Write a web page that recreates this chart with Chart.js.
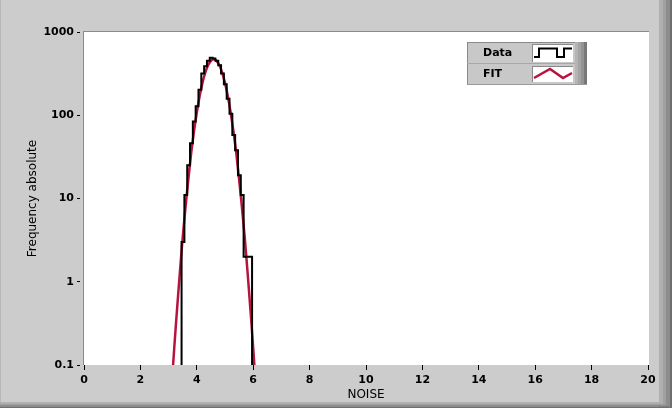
<!DOCTYPE html>
<html>
<head>
<meta charset="utf-8">
<script src="https://cdn.jsdelivr.net/npm/chart.js@4/dist/chart.umd.min.js"></script>
<style>
  html, body { margin: 0; padding: 0; background: #cccccc; }
  #wrap { width: 672px; height: 408px; }
</style>
</head>
<body>
<div id="wrap"><canvas id="chart" width="672" height="408"></canvas></div>
<script>
// histogram bins (left edges) and counts
const binEdges = [3.46, 3.56, 3.66, 3.76, 3.86, 3.96, 4.06, 4.16, 4.26, 4.36, 4.46, 4.56, 4.66,
  4.76, 4.86, 4.96, 5.06, 5.16, 5.26, 5.36, 5.46, 5.56, 5.66, 5.76, 5.86, 5.96];
const binCounts = [3, 11, 25, 46, 84, 128, 203, 318, 388, 452, 489, 482, 452,
  398, 318, 236, 158, 104, 58, 38, 19, 11, 2, 2, 2];
const emptyBin = 0.01; // zero counts sit below the log axis

// fitted curve
const fitX = [3.1, 3.2, 3.3, 3.4, 3.5, 3.6, 3.7, 3.8, 3.9, 4.0, 4.1, 4.2, 4.3, 4.4, 4.5, 4.6,
  4.7, 4.8, 4.9, 5.0, 5.1, 5.2, 5.3, 5.4, 5.5, 5.6, 5.7, 5.8, 5.9, 6.0, 6.1];
const fitY = [0.05, 0.16, 0.47, 1.3, 3.4, 7.9, 17, 35, 64, 108, 169, 245, 326, 399, 451, 470,
  451, 399, 326, 245, 169, 108, 64, 35, 17, 7.9, 3.4, 1.3, 0.47, 0.16, 0.05];

const yTicks = [0.1, 1, 10, 100, 1000];
const yTickLabels = ["0.1", "1", "10", "100", "1000"];
const legendNames = ["Data", "FIT"];

const histPoints = [{ x: binEdges[0], y: emptyBin }];
binCounts.forEach((c, i) => histPoints.push({ x: binEdges[i], y: c }));
histPoints.push({ x: binEdges[binEdges.length - 1], y: emptyBin });
const fitPoints = fitX.map((x, i) => ({ x: x, y: fitY[i] }));

const RED = "#b8123e";

const panel = {
  id: "panel",
  beforeDraw(chart) {
    const ctx = chart.ctx;
    const a = chart.chartArea;
    ctx.save();
    ctx.fillStyle = "#cccccc";
    ctx.fillRect(0, 0, 672, 408);
    // frame
    ctx.fillStyle = "#b8b8b8"; ctx.fillRect(0, 0, 1, 408);
    const shades = ["#b0b0b0", "#a0a0a0", "#8c8c8c", "#6e6e6e"];
    shades.forEach((c, i) => {
      ctx.fillStyle = c;
      ctx.fillRect(659 + i * 3.5, 0, 3.5, 408);
      ctx.fillRect(0, 402 + i * 1.5, 659 + i * 3.5, 1.5);
    });
    // plot area
    ctx.fillStyle = "#ffffff";
    ctx.fillRect(a.left - 1, a.top - 1, a.right - a.left + 2, a.bottom - a.top + 1);
    ctx.fillStyle = "#8a8a8a";
    ctx.fillRect(a.left - 1, a.top - 1, a.right - a.left + 2, 1);
    ctx.fillRect(a.left - 1, a.top - 1, 1, a.bottom - a.top + 1);
    ctx.restore();
  },
  afterDatasetsDraw(chart) {
    const ctx = chart.ctx;
    ctx.save();
    // legend box
    const L = 467, T = 42, W = 108, H = 43;
    ctx.fillStyle = "#c8c8c8";
    ctx.fillRect(L, T, W, H);
    ["#b4b4b4", "#a4a4a4", "#949494", "#787878"].forEach((c, i) => {
      ctx.fillStyle = c;
      ctx.fillRect(L + W + i * 3, T, 3, H);
    });
    ctx.fillStyle = "#8a8a8a";
    ctx.fillRect(L, T, W, 1);
    ctx.fillRect(L, T, 1, H);
    ctx.fillStyle = "#a8a8a8";
    ctx.fillRect(L, T + 21, W, 1);
    ctx.fillStyle = "#9a9a9a";
    ctx.fillRect(L, T + H - 1, W + 12, 1);
    // text
    ctx.fillStyle = "#000";
    ctx.font = "bold 11px 'DejaVu Sans'";
    ctx.textBaseline = "middle";
    ctx.fillText(legendNames[0], 483, T + 11);
    ctx.fillText(legendNames[1], 483, T + 32);
    // icon boxes
    ctx.fillStyle = "#ffffff";
    ctx.fillRect(532, T + 2, 41, 18);
    ctx.fillRect(532, T + 24, 41, 16);
    ctx.fillStyle = "#8a8a8a";
    ctx.fillRect(532, T + 2, 41, 1);
    ctx.fillRect(532, T + 2, 1, 18);
    ctx.fillRect(532, T + 24, 41, 1);
    ctx.fillRect(532, T + 24, 1, 16);
    // step icon
    ctx.strokeStyle = "#000";
    ctx.lineWidth = 2;
    ctx.beginPath();
    ctx.moveTo(534, 57); ctx.lineTo(539, 57); ctx.lineTo(539, 48.5); ctx.lineTo(557, 48.5);
    ctx.lineTo(557, 57); ctx.lineTo(564, 57); ctx.lineTo(564, 48.5); ctx.lineTo(572, 48.5);
    ctx.stroke();
    // fit icon
    ctx.strokeStyle = RED;
    ctx.lineWidth = 2.5;
    ctx.beginPath();
    ctx.moveTo(534, 78); ctx.lineTo(550, 69); ctx.lineTo(563, 78); ctx.lineTo(572, 73);
    ctx.stroke();
    ctx.restore();
  }
};

new Chart(document.getElementById("chart"), {
  type: "line",
  plugins: [panel],
  data: {
    datasets: [
      {
        label: legendNames[0],
        data: histPoints,
        stepped: "before",
        borderColor: "#000000",
        borderWidth: 2,
        pointRadius: 0,
        fill: false,
      },
      {
        label: legendNames[1],
        data: fitPoints,
        borderColor: RED,
        borderWidth: 2.5,
        pointRadius: 0,
        tension: 0.2,
        fill: false,
      },
    ],
  },
  options: {
    responsive: false,
    devicePixelRatio: 1,
    animation: false,
    layout: { padding: { top: 32, right: 24, left: 0, bottom: 0 } },
    plugins: {
      legend: { display: false },
      tooltip: { enabled: false },
    },
    scales: {
      x: {
        type: "linear",
        min: 0,
        max: 20,
        afterFit: (s) => { s.height = 43; },
        ticks: {
          stepSize: 2,
          color: "#000",
          padding: 4,
          maxRotation: 0,
          font: { family: "DejaVu Sans", size: 11, weight: "bold" },
        },
        grid: { drawOnChartArea: false, tickLength: 5, tickColor: "#000", color: "#000" },
        border: { display: false },
        title: {
          display: true,
          text: "NOISE",
          color: "#000",
          padding: { top: 0, bottom: 6 },
          font: { family: "DejaVu Sans", size: 12 },
        },
      },
      y: {
        type: "logarithmic",
        min: 0.1,
        max: 1000,
        afterFit: (s) => { s.width = 84; },
        afterBuildTicks: (s) => { s.ticks = yTicks.map((v) => ({ value: v })); },
        ticks: {
          color: "#000",
          padding: 3,
          callback: (v) => yTickLabels[yTicks.indexOf(v)],
          font: { family: "DejaVu Sans", size: 11, weight: "bold" },
        },
        grid: {
          drawOnChartArea: false,
          tickLength: 7,
          tickBorderDash: [3, 10],
          tickColor: "#000",
          color: "#000",
        },
        border: { display: false },
        title: {
          display: true,
          text: "Frequency absolute",
          color: "#000",
          padding: { top: 26, bottom: 0 },
          font: { family: "DejaVu Sans", size: 12 },
        },
      },
    },
  },
});
</script>
</body>
</html>
